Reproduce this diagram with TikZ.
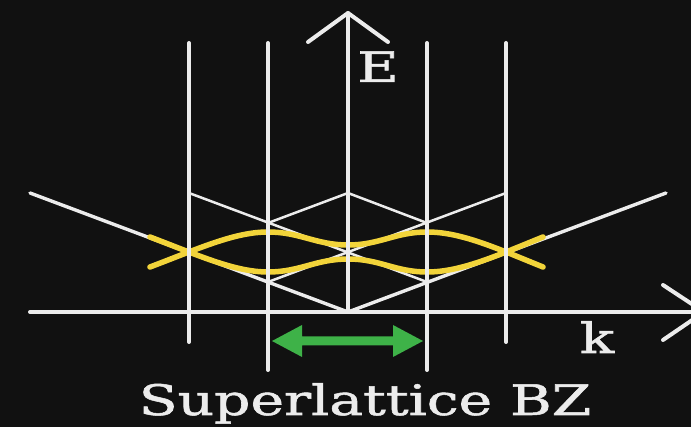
\documentclass[tikz,border=0pt]{standalone}
\usepackage{fontspec}
\setmainfont{DejaVu Serif}
\newfontfamily\lblfont{DejaVu Serif}[FakeBold=1.2]
\definecolor{bgc}{RGB}{17,17,17}
\definecolor{lnc}{RGB}{236,236,236}
\definecolor{ylc}{RGB}{242,212,58}
\definecolor{grc}{RGB}{62,178,72}
\newcommand{\widetext}[1]{\scalebox{1.35}[1]{#1}}
\tikzset{
  axisline/.style={draw=lnc, line width=4pt, line cap=round, line join=round},
  vline/.style={draw=lnc, line width=4pt, line cap=round},
  coneline/.style={draw=lnc, line width=3.4pt, line cap=round},
  foldline/.style={draw=lnc, line width=2.5pt, line cap=round},
  band/.style={draw=ylc, line width=5.5pt, line cap=round},
  lbl/.style={text=lnc, inner sep=0pt, anchor=base, font=\lblfont\fontsize{42}{48}\selectfont}
}
\begin{document}
\begin{tikzpicture}[x=1pt,y=-1pt]
\fill[bgc] (0,0) rectangle (691,427);
\useasboundingbox (0,0) rectangle (691,427);
% key points
\coordinate (O) at (348,312);
\coordinate (VL) at (30,193);
\coordinate (VR) at (666,193);
\coordinate (P1) at (189,193);
\coordinate (P2) at (427,282);
\coordinate (Q1) at (506,193);
\coordinate (Q2) at (268,282);
\coordinate (T1) at (268,223);
\coordinate (T2) at (348,193);
\coordinate (T3) at (427,223);
% cones
\draw[coneline] (VL) -- (O) -- (VR);
\draw[foldline] (P1) -- (P2);
\draw[foldline] (Q1) -- (Q2);
\draw[foldline] (T1) -- (T2) -- (T3);
% yellow bands
\draw[band] (150,237) .. controls (200,256) and (235,272) .. (268,272)
  .. controls (300,272) and (316,259) .. (348,259)
  .. controls (380,259) and (395,272) .. (427,272)
  .. controls (461,272) and (496,256) .. (543,237);
\draw[band] (150,267) .. controls (200,248) and (235,232) .. (268,232)
  .. controls (300,232) and (316,245) .. (348,245)
  .. controls (380,245) and (395,232) .. (427,232)
  .. controls (461,232) and (496,248) .. (543,267);
% vertical BZ lines
\coordinate (L1t) at (189,43); \coordinate (L1b) at (189,342);
\coordinate (L2t) at (268,43); \coordinate (L2b) at (268,370);
\coordinate (L3t) at (427,43); \coordinate (L3b) at (427,370);
\coordinate (L4t) at (506,43); \coordinate (L4b) at (506,342);
\draw[vline] (L1t) -- (L1b);
\draw[vline] (L2t) -- (L2b);
\draw[vline] (L3t) -- (L3b);
\draw[vline] (L4t) -- (L4b);
% axes
\coordinate (Etip) at (348,13);
\coordinate (Ktip) at (704,312);
\coordinate (Kstart) at (30,312);
\draw[axisline] (O) -- (Etip);
\draw[axisline] (308,42) -- (Etip) -- (388,42);
\draw[axisline] (Kstart) -- (Ktip);
\draw[axisline] (663,285) -- (Ktip) -- (663,340);
% green arrow
\fill[grc] (272,341) -- (302,325) -- (302,336.5) -- (393,336.5) -- (393,325)
  -- (423,341) -- (393,357) -- (393,345.5) -- (302,345.5) -- (302,357) -- cycle;
% labels
\node[lbl] (E) at (378,82) {\widetext{E}};
\node[lbl] (k) at (597,353) {\widetext{k}};
\node[lbl] (bz) at (365,415) {\widetext{Superlattice BZ}};
\end{tikzpicture}
\end{document}
